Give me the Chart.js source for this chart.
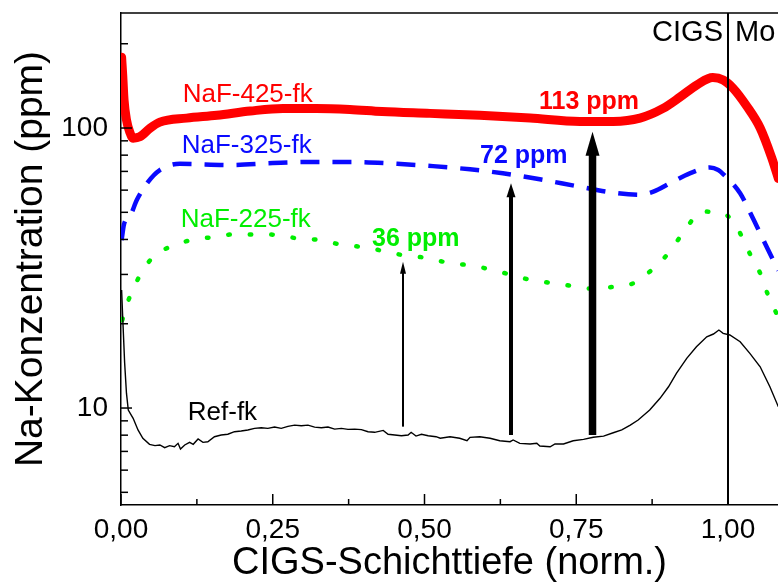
<!DOCTYPE html>
<html>
<head>
<meta charset="utf-8">
<title>Na-Konzentration</title>
<script src="https://cdn.jsdelivr.net/npm/chart.js@4/dist/chart.umd.min.js"></script>
<style>
  html, body { margin: 0; padding: 0; background: #fff; overflow: hidden; }
</style>
</head>
<body>
<canvas id="profile" width="778" height="584"></canvas>
<script>
// depth (normalised CIGS thickness) and Na concentration (ppm) per sample
const refX = [0.001, 0.003, 0.006, 0.009, 0.012, 0.020, 0.028, 0.036, 0.047, 0.056,
  0.064, 0.072, 0.080, 0.088, 0.094, 0.098, 0.105, 0.113, 0.119, 0.127,
  0.135, 0.143, 0.154, 0.165, 0.176, 0.187, 0.198, 0.209, 0.220, 0.231,
  0.242, 0.253, 0.264, 0.275, 0.286, 0.297, 0.308, 0.319, 0.330, 0.341,
  0.352, 0.363, 0.374, 0.385, 0.396, 0.407, 0.418, 0.432, 0.440, 0.451,
  0.462, 0.473, 0.478, 0.486, 0.495, 0.506, 0.519, 0.526, 0.542, 0.558,
  0.570, 0.575, 0.591, 0.608, 0.624, 0.641, 0.646, 0.657, 0.674, 0.685,
  0.690, 0.707, 0.715, 0.729, 0.745, 0.762, 0.778, 0.795, 0.811, 0.825,
  0.839, 0.852, 0.871, 0.888, 0.902, 0.915, 0.932, 0.948, 0.965, 0.976,
  0.985, 0.992, 1.003, 1.020, 1.036, 1.053, 1.069, 1.083];
const refY = [26.4, 20.6, 14.5, 11.3, 9.84, 9.19, 8.35, 7.8, 7.42, 7.34,
  7.38, 7.22, 7.34, 7.27, 7.48, 7.14, 7.38, 7.54, 7.42, 7.75,
  7.54, 7.58, 7.9, 8.01, 8.06, 8.23, 8.28, 8.35, 8.46, 8.5,
  8.46, 8.55, 8.46, 8.6, 8.69, 8.64, 8.69, 8.55, 8.5, 8.55,
  8.41, 8.46, 8.39, 8.41, 8.37, 8.23, 8.19, 8.32, 8.06, 8.01,
  7.96, 8.01, 8.19, 7.94, 8.06, 7.96, 7.9, 7.8, 7.9, 7.8,
  7.64, 7.86, 7.9, 7.8, 7.64, 7.58, 7.69, 7.48, 7.44, 7.48,
  7.32, 7.27, 7.44, 7.44, 7.64, 7.73, 7.86, 7.94, 8.16, 8.35,
  8.69, 9.06, 9.84, 10.83, 11.91, 13.3, 15.05, 16.56, 17.97, 18.38,
  18.99, 18.48, 18.23, 17.25, 15.68, 14.04, 11.91, 10.1];

const naf225X = [0.002, 0.013, 0.028, 0.051, 0.084, 0.116, 0.153, 0.185, 0.224, 0.257,
  0.289, 0.328, 0.361, 0.397, 0.429, 0.463, 0.498, 0.534, 0.570, 0.602,
  0.638, 0.671, 0.707, 0.743, 0.775, 0.811, 0.844, 0.877, 0.904, 0.929,
  0.957, 0.992, 1.017, 1.036, 1.053, 1.066, 1.081];
const naf225Y = [20.6, 24.5, 28.9, 34.3, 37.9, 39.8, 40.8, 41.7, 41.7, 41.5,
  40.4, 39.8, 38.4, 37.6, 36.5, 35.2, 34.5, 33.2, 32.4, 31.5,
  30.1, 28.8, 28.0, 27.3, 26.7, 27.1, 27.9, 31.5, 36.2, 43.2,
  50.3, 49.6, 43.2, 35.6, 30.3, 25.3, 21.5];

const naf325X = [0.001, 0.005, 0.015, 0.026, 0.044, 0.064, 0.097, 0.180, 0.250, 0.311,
  0.377, 0.455, 0.514, 0.575, 0.629, 0.690, 0.751, 0.811, 0.855, 0.876,
  0.909, 0.937, 0.970, 0.984, 0.992, 1.020, 1.033, 1.048, 1.061, 1.077, 1.083];
const naf325Y = [39.8, 45.4, 48.5, 55.3, 64, 70.8, 74.5, 73.8, 75, 75.7,
  75.7, 74.5, 73.1, 71.2, 68.9, 65.6, 62, 58.8, 57.8, 59.1,
  64.3, 68.9, 72.3, 70.8, 68.5, 58.5, 51.7, 44.3, 38.7, 32.9, 31];

const naf425X = [0.001, 0.003, 0.005, 0.009, 0.015, 0.020, 0.031, 0.048, 0.064, 0.108,
  0.158, 0.213, 0.267, 0.322, 0.377, 0.430, 0.509, 0.591, 0.674, 0.756,
  0.811, 0.855, 0.893, 0.921, 0.949, 0.975, 0.992, 1.008, 1.031, 1.053,
  1.072, 1.083];
const naf425Y = [179, 152, 126, 107, 96, 92, 93, 100, 105, 108.5,
  111, 115, 117.5, 117.5, 116.5, 114.5, 112.8, 111, 108.5, 105.6,
  105.6, 108.5, 117.5, 129, 142.6, 151.5, 148.5, 139, 119.6, 100,
  78.3, 66];

// arrows from the reference profile up to each NaF curve
const arrowX = [0.4646, 0.6425, 0.7768];
const arrowBase = [8.58, 8.01, 8.01];
const arrowTip = [33.3, 63.5, 97];

// axis ticks and the CIGS/Mo boundary
const xTicks = [0, 0.25, 0.5, 0.75, 1.0];
const yTicks = [10, 100];
const boundaryX = 1.0;

const FONT = '"Liberation Sans", Arial, Helvetica, sans-serif';
Chart.defaults.font.family = FONT;
Chart.defaults.color = '#000';

function points(xs, ys) {
  return xs.map((x, i) => ({ x: x, y: ys[i] }));
}

// text annotations, anchored at (x, y) in data units, left edge / baseline
const notes = [
  { text: 'NaF-425-fk', x: 0.1016, y: 123.8, color: '#ff0000', font: '26px ' + FONT },
  { text: 'NaF-325-fk', x: 0.100, y: 81.4, color: '#0a0aff', font: '26px ' + FONT },
  { text: 'NaF-225-fk', x: 0.0984, y: 44.3, color: '#00ee00', font: '26px ' + FONT },
  { text: 'Ref-fk', x: 0.110, y: 9.06, color: '#000', font: '26px ' + FONT },
  { text: '113 ppm', x: 0.6886, y: 116.6, color: '#ff0000', font: 'bold 25px ' + FONT },
  { text: '72 ppm', x: 0.5914, y: 74.8, color: '#0a0aff', font: 'bold 25px ' + FONT },
  { text: '36 ppm', x: 0.4135, y: 37.9, color: '#00ee00', font: 'bold 25px ' + FONT }
];
const arrowStyle = [
  { shaft: 2, headW: 6, headL: 12 },
  { shaft: 4, headW: 9, headL: 14 },
  { shaft: 7.5, headW: 14, headL: 24 }
];

// no extra room for half tick labels, the frame is fixed by the layout padding
function noLabelPadding(s) {
  s.paddingTop = 0;
  s.paddingBottom = 0;
  s.paddingLeft = 0;
  s.paddingRight = 0;
}

const decor = {
  id: 'decor',
  afterDatasetsDraw(chart) {
    const { ctx, chartArea: a, scales: { x, y } } = chart;
    ctx.save();
    ctx.strokeStyle = '#000';
    ctx.fillStyle = '#000';

    // top edge of the frame
    ctx.lineWidth = 1.5;
    ctx.beginPath();
    ctx.moveTo(a.left, a.top);
    ctx.lineTo(a.right, a.top);
    ctx.stroke();

    // inward tick marks
    for (let k = 0; k <= 8; k++) {
      const px = x.getPixelForValue(k * 0.125);
      const len = k % 2 === 0 ? 11 : 6;
      ctx.beginPath();
      ctx.moveTo(px, a.bottom);
      ctx.lineTo(px, a.bottom - len);
      ctx.stroke();
    }
    for (let e = 0; e <= 2; e++) {
      for (let m = 1; m <= 9; m++) {
        const v = m * Math.pow(10, e);
        if (v < y.min || v > y.max) continue;
        const py = y.getPixelForValue(v);
        const len = m === 1 ? 11 : 7;
        ctx.beginPath();
        ctx.moveTo(a.left, py);
        ctx.lineTo(a.left + len, py);
        ctx.stroke();
      }
    }

    // CIGS | Mo boundary
    const bx = x.getPixelForValue(boundaryX);
    ctx.lineWidth = 2;
    ctx.beginPath();
    ctx.moveTo(bx, a.top);
    ctx.lineTo(bx, a.bottom);
    ctx.stroke();
    ctx.font = '29px ' + FONT;
    ctx.textBaseline = 'alphabetic';
    const by = y.getPixelForValue(204.5);
    ctx.textAlign = 'right';
    ctx.fillText('CIGS', bx - 5, by);
    ctx.textAlign = 'left';
    ctx.fillText('Mo', bx + 7, by);

    // arrows
    arrowX.forEach((v, i) => {
      const s = arrowStyle[i];
      const px = x.getPixelForValue(v);
      const y0 = y.getPixelForValue(arrowBase[i]);
      const y1 = y.getPixelForValue(arrowTip[i]);
      ctx.lineWidth = s.shaft;
      ctx.beginPath();
      ctx.moveTo(px, y0);
      ctx.lineTo(px, y1 + s.headL - 1);
      ctx.stroke();
      ctx.beginPath();
      ctx.moveTo(px, y1);
      ctx.lineTo(px + s.headW / 2, y1 + s.headL);
      ctx.lineTo(px - s.headW / 2, y1 + s.headL);
      ctx.closePath();
      ctx.fill();
    });

    // curve labels
    ctx.textAlign = 'left';
    ctx.textBaseline = 'alphabetic';
    notes.forEach(n => {
      ctx.font = n.font;
      ctx.fillStyle = n.color;
      ctx.fillText(n.text, x.getPixelForValue(n.x), y.getPixelForValue(n.y));
    });
    ctx.restore();
  }
};

new Chart(document.getElementById('profile'), {
  type: 'line',
  data: {
    datasets: [
      {
        label: 'Ref-fk',
        data: points(refX, refY),
        borderColor: '#000',
        borderWidth: 1.4,
        tension: 0
      },
      {
        label: 'NaF-225-fk',
        data: points(naf225X, naf225Y),
        borderColor: '#00ee00',
        borderWidth: 4.5,
        borderDash: [1.5, 20],
        borderCapStyle: 'round',
        cubicInterpolationMode: 'monotone'
      },
      {
        label: 'NaF-325-fk',
        data: points(naf325X, naf325Y),
        borderColor: '#0a0aff',
        borderWidth: 4.5,
        borderDash: [19, 13],
        cubicInterpolationMode: 'monotone'
      },
      {
        label: 'NaF-425-fk',
        data: points(naf425X, naf425Y),
        borderColor: '#ff0000',
        borderWidth: 9,
        borderJoinStyle: 'round',
        borderCapStyle: 'round',
        cubicInterpolationMode: 'monotone'
      }
    ]
  },
  options: {
    responsive: false,
    animation: false,
    events: [],
    layout: { padding: { top: 13, right: 0, left: 0, bottom: 0 } },
    elements: { point: { radius: 0 } },
    plugins: { legend: { display: false }, tooltip: { enabled: false } },
    scales: {
      x: {
        type: 'linear',
        min: 0,
        max: 657 / 607,
        afterFit: s => { s.height = 79; noLabelPadding(s); },
        afterBuildTicks: s => { s.ticks = xTicks.map(v => ({ value: v })); },
        grid: { display: false, drawTicks: false },
        border: { display: true, color: '#000', width: 1.5 },
        ticks: {
          autoSkip: false,
          maxRotation: 0,
          padding: 8,
          font: { size: 28 },
          color: '#000',
          callback: v => v.toFixed(2).replace('.', ',')
        },
        title: {
          display: true,
          text: 'CIGS-Schichttiefe (norm.)',
          color: '#000',
          font: { size: 38, lineHeight: 1 },
          padding: { top: 0, bottom: 1 }
        }
      },
      y: {
        type: 'logarithmic',
        min: 4.505,
        max: 257.5,
        afterFit: s => { s.width = 121; noLabelPadding(s); },
        afterBuildTicks: s => { s.ticks = yTicks.map(v => ({ value: v })); },
        grid: { display: false, drawTicks: false },
        border: { display: true, color: '#000', width: 1.5 },
        ticks: {
          autoSkip: false,
          padding: 13,
          font: { size: 28 },
          color: '#000',
          callback: v => String(v)
        },
        title: {
          display: true,
          text: 'Na-Konzentration (ppm)',
          color: '#000',
          font: { size: 39, lineHeight: 1 },
          padding: { top: 12, bottom: 0 }
        }
      }
    }
  },
  plugins: [decor]
});
</script>
</body>
</html>
